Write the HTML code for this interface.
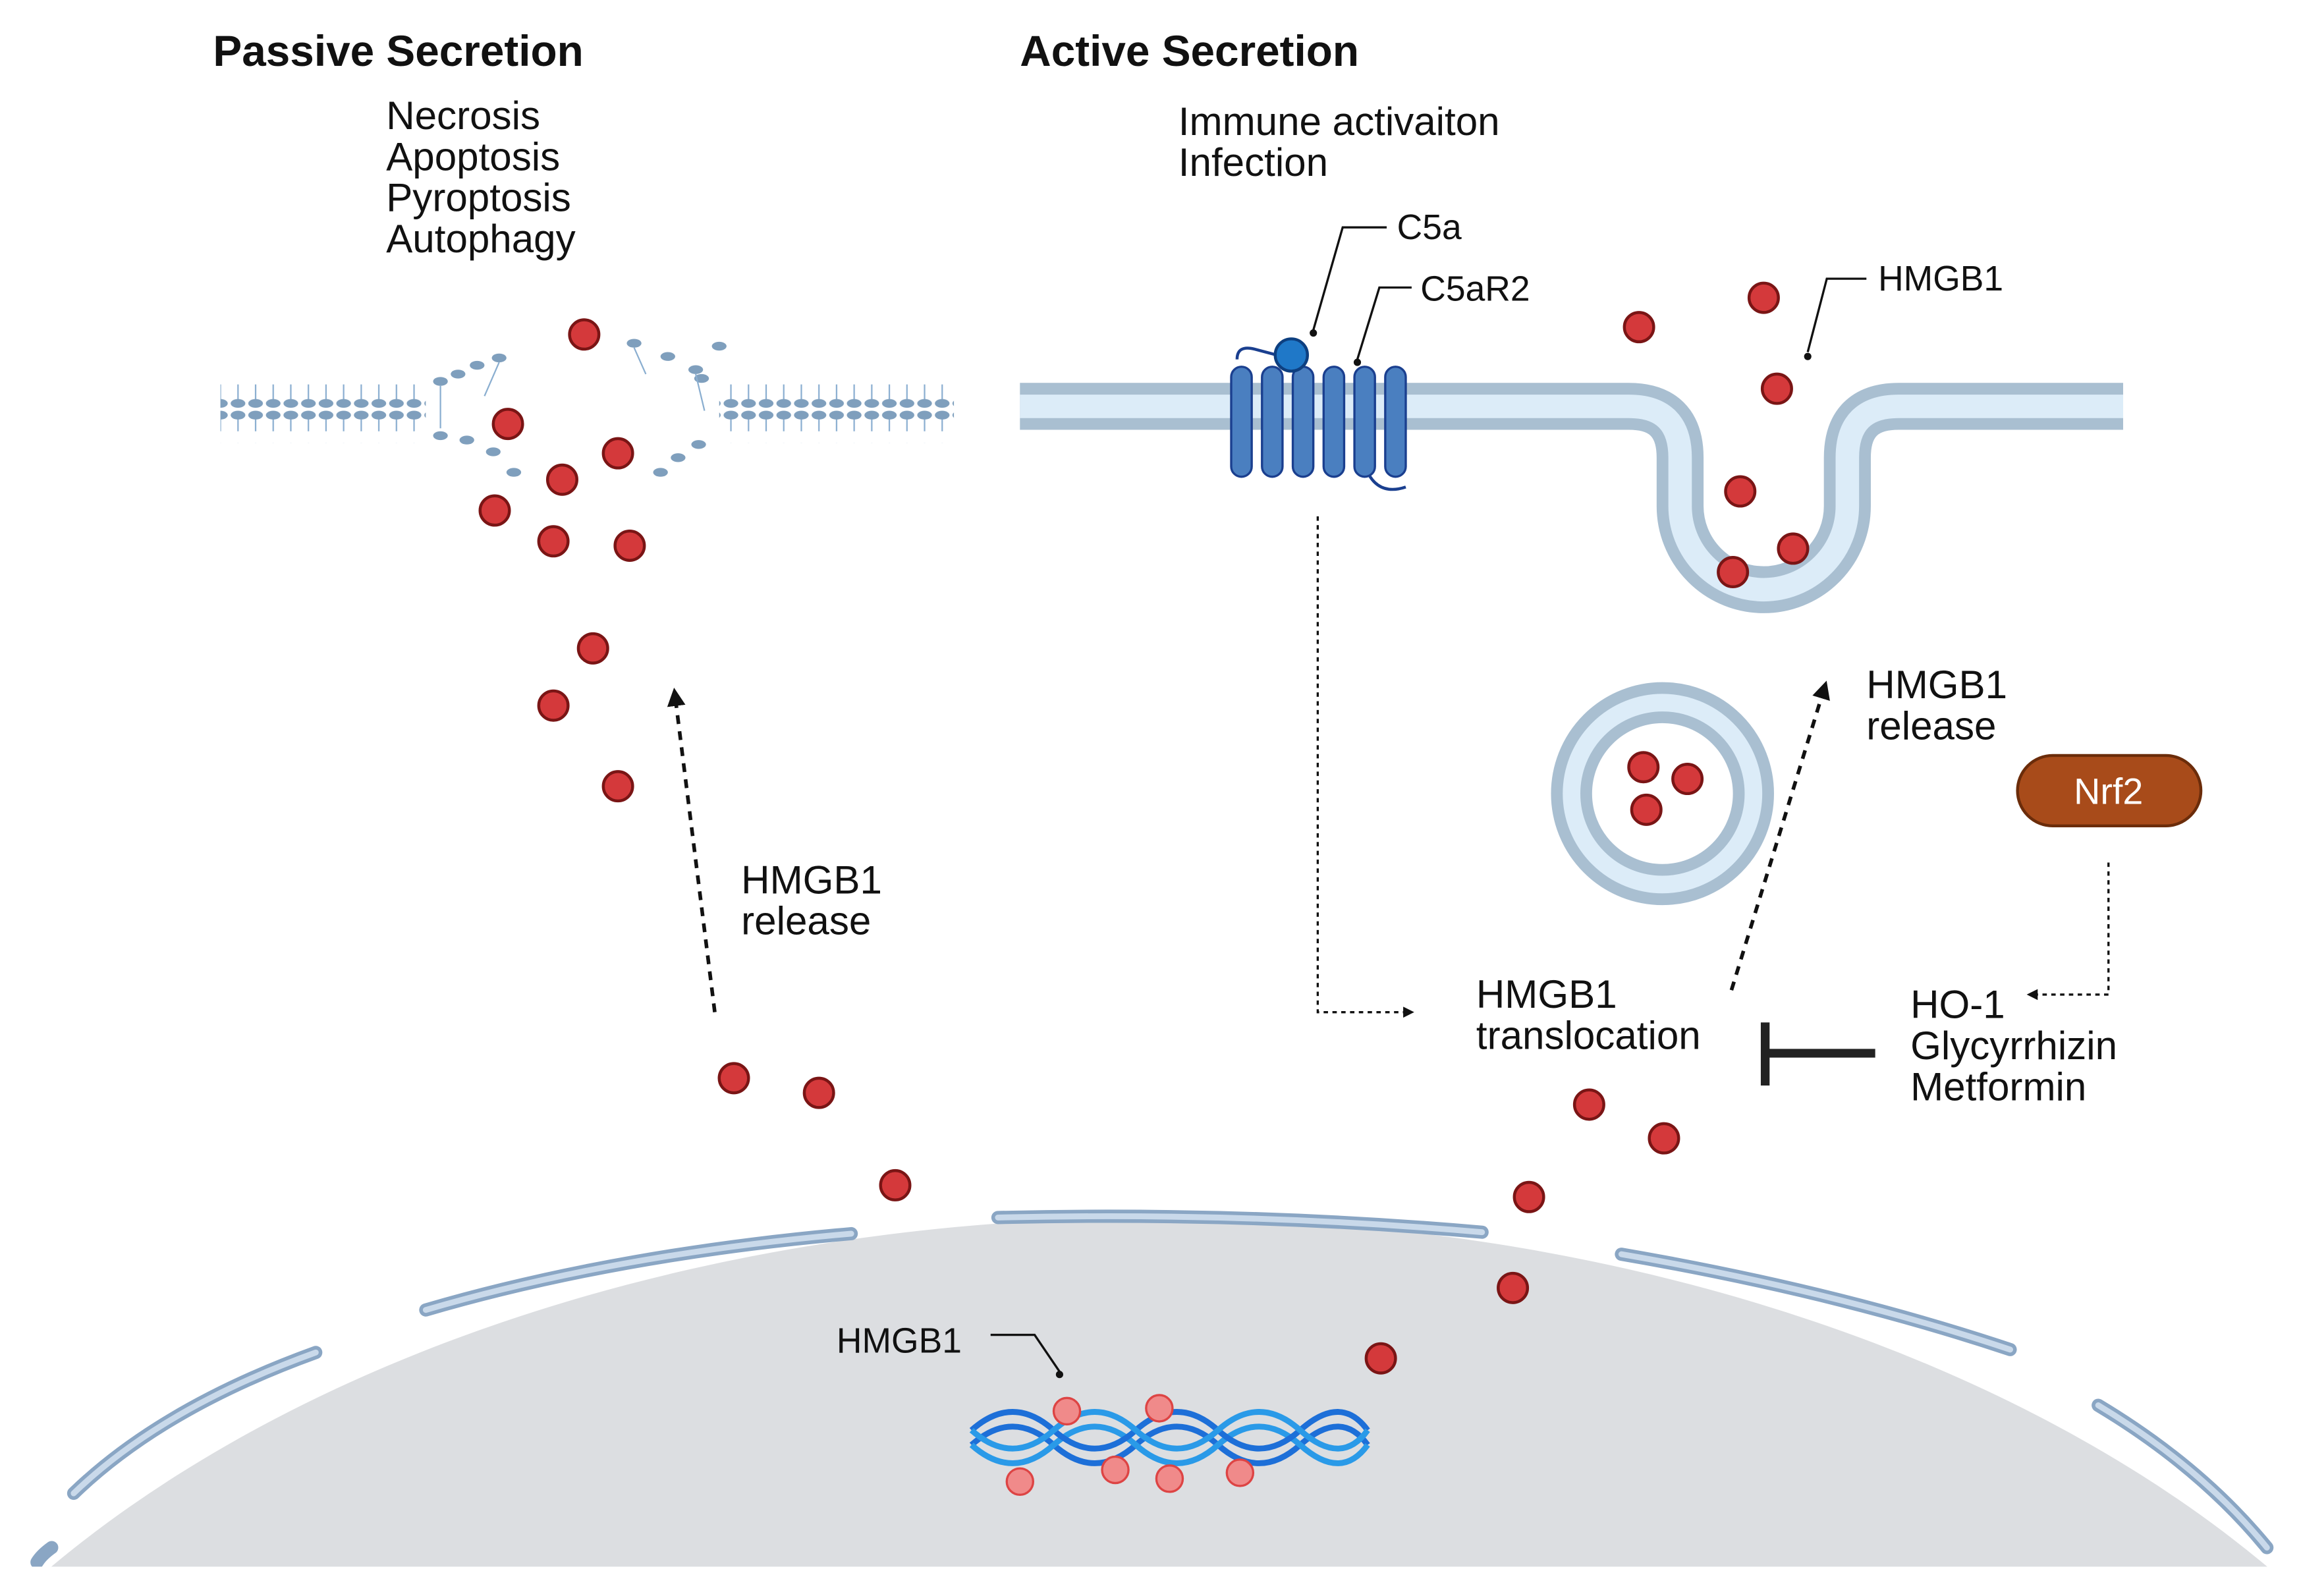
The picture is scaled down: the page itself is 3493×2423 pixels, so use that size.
<!DOCTYPE html>
<html><head><meta charset="utf-8"><style>
html,body{margin:0;padding:0;background:#fff;width:3493px;height:2423px;overflow:hidden}
svg{display:block;vertical-align:top}
text{font-family:"Liberation Sans",sans-serif;fill:#111}
</style></head><body>
<svg width="3493" height="2423" viewBox="0 0 1568 1088" xmlns="http://www.w3.org/2000/svg">
<defs>
<marker id="ah" viewBox="0 0 10 10" refX="5" refY="5" markerWidth="5" markerHeight="5" orient="auto"><path d="M0,0L10,5L0,10z" fill="#111"/></marker>
<g id="rd"><circle r="10" fill="#d4393b" stroke="#7a1515" stroke-width="2"/></g>
<g id="pd"><circle r="9" fill="#f08a8a" stroke="#d44" stroke-width="1.5"/></g>
<pattern id="lip" width="12" height="40" patternUnits="userSpaceOnUse">
<line x1="6" y1="3" x2="6" y2="14" stroke="#8aaed0" stroke-width="1"/>
<line x1="6" y1="22" x2="6" y2="33" stroke="#8aaed0" stroke-width="1"/>
<ellipse cx="6" cy="3" rx="5" ry="3" fill="#7f9fbd"/>
<ellipse cx="6" cy="35" rx="5" ry="3" fill="#7f9fbd"/>
</pattern>
</defs>

<!-- nucleus -->
<ellipse cx="790" cy="1430" rx="947" ry="600" fill="#dcdee1"/>
<g fill="none" stroke="#8aa6c4" stroke-width="9" stroke-linecap="round">
<path d="M25,1065 Q28,1060 35,1055" />
<path d="M50,1018 Q110,960 215,922"/>
<path d="M290,893 Q420,855 580,841"/>
<path d="M680,830 Q850,826 1010,840"/>
<path d="M1105,855 Q1250,880 1370,920"/>
<path d="M1430,958 Q1500,1000 1545,1055"/>
</g>
<g fill="none" stroke="#c9d9ea" stroke-width="4" stroke-linecap="round">
<path d="M50,1018 Q110,960 215,922"/>
<path d="M290,893 Q420,855 580,841"/>
<path d="M680,830 Q850,826 1010,840"/>
<path d="M1105,855 Q1250,880 1370,920"/>
<path d="M1430,958 Q1500,1000 1545,1055"/>
</g>
<rect x="0" y="1068" width="1568" height="20" fill="#fff"/>

<!-- DNA -->
<g fill="none" stroke-width="4">
<path d="M662,985 Q690,960 718,985 T774,985 T830,985 T886,985 T932,985" stroke="#1d6fd8"/>
<path d="M662,985 Q690,1010 718,985 T774,985 T830,985 T886,985 T932,985" stroke="#2a9ae8"/>
<path d="M662,975 Q690,950 718,975 T774,975 T830,975 T886,975 T932,975" stroke="#1d6fd8"/>
<path d="M662,975 Q690,1000 718,975 T774,975 T830,975 T886,975 T932,975" stroke="#2a9ae8"/>
</g>
<use href="#pd" x="727" y="962"/><use href="#pd" x="790" y="960"/>
<use href="#pd" x="695" y="1010"/><use href="#pd" x="760" y="1002"/>
<use href="#pd" x="797" y="1008"/><use href="#pd" x="845" y="1004"/>
<text x="570" y="922" font-size="24">HMGB1</text>
<path d="M675,910 H705 L722,935" fill="none" stroke="#111" stroke-width="1.5"/>
<circle cx="722" cy="937" r="2.5" fill="#111"/>

<!-- titles -->
<text x="145" y="45" font-size="29.5" font-weight="bold">Passive Secretion</text>
<text x="695" y="45" font-size="29.5" font-weight="bold">Active Secretion</text>
<g font-size="27">
<text x="263" y="88">Necrosis</text>
<text x="263" y="116">Apoptosis</text>
<text x="263" y="144">Pyroptosis</text>
<text x="263" y="172">Autophagy</text>
<text x="803" y="92">Immune activaiton</text>
<text x="803" y="120">Infection</text>
</g>

<!-- left membrane -->
<rect x="150" y="262" width="140" height="40" fill="url(#lip)"/>
<rect x="490" y="262" width="160" height="40" fill="url(#lip)"/>
<g fill="#7f9fbd">
<ellipse cx="300" cy="260" rx="5" ry="3"/><ellipse cx="312" cy="255" rx="5" ry="3"/><ellipse cx="325" cy="249" rx="5" ry="3"/><ellipse cx="340" cy="244" rx="5" ry="3"/>
<ellipse cx="300" cy="297" rx="5" ry="3"/><ellipse cx="318" cy="300" rx="5" ry="3"/><ellipse cx="336" cy="308" rx="5" ry="3"/><ellipse cx="350" cy="322" rx="5" ry="3"/>
<ellipse cx="432" cy="234" rx="5" ry="3"/><ellipse cx="455" cy="243" rx="5" ry="3"/><ellipse cx="474" cy="252" rx="5" ry="3"/><ellipse cx="490" cy="236" rx="5" ry="3"/>
<ellipse cx="478" cy="258" rx="5" ry="3"/>
<ellipse cx="450" cy="322" rx="5" ry="3"/><ellipse cx="462" cy="312" rx="5" ry="3"/><ellipse cx="476" cy="303" rx="5" ry="3"/>
</g>
<g stroke="#8aaed0" stroke-width="1"><line x1="300" y1="263" x2="300" y2="292"/><line x1="340" y1="247" x2="330" y2="270"/><line x1="474" y1="255" x2="480" y2="280"/><line x1="432" y1="237" x2="440" y2="255"/></g>

<!-- right membrane -->
<path d="M695,277 H1110 Q1145,277 1145,312 V345 A57,57 0 0 0 1259,345 V312 Q1259,277 1294,277 H1447" fill="none" stroke="#a9bfd1" stroke-width="32"/>
<path d="M695,277 H1110 Q1145,277 1145,312 V345 A57,57 0 0 0 1259,345 V312 Q1259,277 1294,277 H1447" fill="none" stroke="#dcecf8" stroke-width="16"/>
<circle cx="1133" cy="541" r="62" fill="none" stroke="#a9bfd1" stroke-width="28"/>
<circle cx="1133" cy="541" r="62" fill="none" stroke="#dcecf8" stroke-width="12"/>

<!-- receptor -->
<path d="M843,245 Q843,235 855,238 L870,242" fill="none" stroke="#1a3f8f" stroke-width="2"/>
<path d="M932,322 Q940,338 958,332" fill="none" stroke="#1a3f8f" stroke-width="2"/>
<g fill="#4a7fc0" stroke="#1a3f8f" stroke-width="1.5">
<rect x="839" y="250" width="14" height="75" rx="7"/>
<rect x="860" y="250" width="14" height="75" rx="7"/>
<rect x="881" y="250" width="14" height="75" rx="7"/>
<rect x="902" y="250" width="14" height="75" rx="7"/>
<rect x="923" y="250" width="14" height="75" rx="7"/>
<rect x="944" y="250" width="14" height="75" rx="7"/>
</g>
<circle cx="880" cy="242" r="11" fill="#1f78c8" stroke="#0d3f80" stroke-width="2"/>
<text x="952" y="163" font-size="24">C5a</text>
<path d="M945,155 H915 L895,225" fill="none" stroke="#111" stroke-width="1.5"/><circle cx="895" cy="227" r="2.5" fill="#111"/>
<text x="968" y="205" font-size="24">C5aR2</text>
<path d="M962,196 H940 L925,245" fill="none" stroke="#111" stroke-width="1.5"/><circle cx="925" cy="247" r="2.5" fill="#111"/>
<text x="1280" y="198" font-size="24">HMGB1</text>
<path d="M1272,190 H1245 L1232,240" fill="none" stroke="#111" stroke-width="1.5"/><circle cx="1232" cy="243" r="2.5" fill="#111"/>

<!-- red dots -->
<use href="#rd" x="398" y="228"/><use href="#rd" x="346" y="289"/><use href="#rd" x="421" y="309"/>
<use href="#rd" x="383" y="327"/><use href="#rd" x="337" y="348"/><use href="#rd" x="377" y="369"/>
<use href="#rd" x="429" y="372"/><use href="#rd" x="404" y="442"/><use href="#rd" x="377" y="481"/>
<use href="#rd" x="421" y="536"/><use href="#rd" x="500" y="735"/><use href="#rd" x="558" y="745"/>
<use href="#rd" x="610" y="808"/>
<use href="#rd" x="1117" y="223"/><use href="#rd" x="1202" y="203"/><use href="#rd" x="1211" y="265"/>
<use href="#rd" x="1186" y="335"/><use href="#rd" x="1222" y="374"/><use href="#rd" x="1181" y="390"/>
<use href="#rd" x="1120" y="523"/><use href="#rd" x="1150" y="531"/><use href="#rd" x="1122" y="552"/>
<use href="#rd" x="1083" y="753"/><use href="#rd" x="1134" y="776"/><use href="#rd" x="1042" y="816"/>
<use href="#rd" x="1031" y="878"/><use href="#rd" x="941" y="926"/>

<!-- arrows -->
<line x1="487" y1="690" x2="460" y2="475" stroke="#111" stroke-width="2.5" stroke-dasharray="6,5" marker-end="url(#ah)"/>
<text x="505" y="609" font-size="27">HMGB1</text>
<text x="505" y="637" font-size="27">release</text>
<line x1="1180" y1="675" x2="1243" y2="470" stroke="#111" stroke-width="2.5" stroke-dasharray="6,5" marker-end="url(#ah)"/>
<text x="1272" y="476" font-size="27">HMGB1</text>
<text x="1272" y="504" font-size="27">release</text>
<path d="M898,352 V690 H960" fill="none" stroke="#111" stroke-width="1.5" stroke-dasharray="3,3" marker-end="url(#ah)"/>
<text x="1006" y="687" font-size="27">HMGB1</text>
<text x="1006" y="715" font-size="27">translocation</text>

<rect x="1375" y="515" width="125" height="48" rx="24" fill="#a84b1a" stroke="#6b2c0a" stroke-width="2"/>
<text x="1437" y="548" font-size="25" text-anchor="middle" style="fill:#fff">Nrf2</text>
<path d="M1437,588 V678 H1385" fill="none" stroke="#111" stroke-width="1.5" stroke-dasharray="3,3" marker-end="url(#ah)"/>
<text x="1302" y="694" font-size="27">HO-1</text>
<text x="1302" y="722" font-size="27">Glycyrrhizin</text>
<text x="1302" y="750" font-size="27">Metformin</text>
<line x1="1205" y1="718" x2="1278" y2="718" stroke="#222" stroke-width="6"/>
<line x1="1203" y1="697" x2="1203" y2="740" stroke="#222" stroke-width="6"/>
</svg>
</body></html>
